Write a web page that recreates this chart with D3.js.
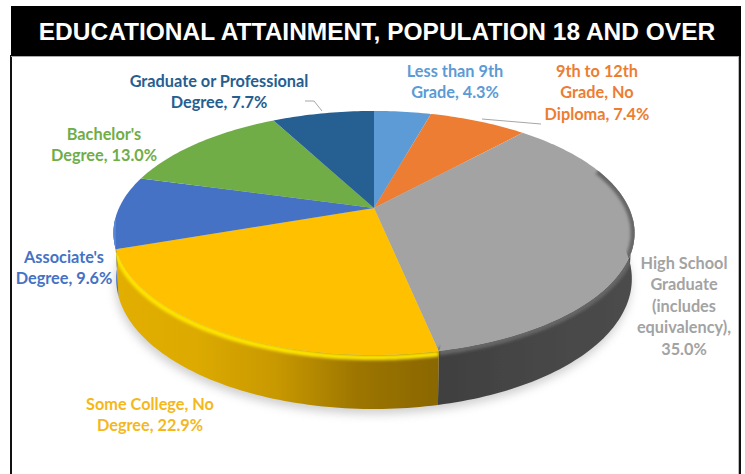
<!DOCTYPE html>
<html>
<head>
<meta charset="utf-8">
<script src="https://cdnjs.cloudflare.com/ajax/libs/d3/7.8.5/d3.min.js"></script>
<style>
html,body{margin:0;padding:0;background:#fff;}
svg{display:block;}
.lbl{font-family:Lato,"Open Sans",sans-serif;font-weight:700;font-size:16.3px;text-anchor:middle;}
</style>
</head>
<body>
<div id="chart"></div>
<script>
var chartTitle = "EDUCATIONAL ATTAINMENT, POPULATION 18 AND OVER";
var values = [4.3, 7.4, 35.0, 22.9, 9.6, 13.0, 7.7];
var labelLines = [
    ["Less than 9th", "Grade,"],
    ["9th to 12th", "Grade, No", "Diploma,"],
    ["High School", "Graduate", "(includes", "equivalency),", ""],
    ["Some College, No", "Degree,"],
    ["Associate's", "Degree,"],
    ["Bachelor's", "Degree,"],
    ["Graduate or Professional", "Degree,"]
];
var topColors = ["#5b9bd5", "#ed7d31", "#a3a3a3", "#ffc000", "#4472c4", "#70ad47", "#255e91"];
var rimColors = [null, null, "#666666", "#ffe600", "#5b8ad8", null, null];
var rimWidths = [0, 0, 8, 5, 5, 0, 0];
var rimShift = [0, 0, 0, 2.5, 0, 0, 0];
var wallStops = [
    null, null,
    ["#4c4c4c", "#404040"],
    ["#8a6700", "#9c7500", "#c89800", "#dcaa00", "#e2ae00"],
    ["#4472c4", "#4472c4"],
    null, null
];
var labelAnchor = [[455, 77], [597, 77], [684, 269], [150, 410], [64, 263], [104, 140], [219, 87]];
var lineGap = 21.4;

var width = 745, height = 474;
var svg = d3.select("#chart").append("svg").attr("width", width).attr("height", height);
var defs = svg.append("defs");

// tilted disc: apex at (cx,cy), front edge nearer the viewer
var cx = 374, cy = 208, A = 255, B = 116.9, k = 0.205;
var baseDrop = 44.9, baseScale = 1.01;

function project(a, onBase) {
    var u = Math.sin(a), v = -Math.cos(a);
    var w = (1 - k * v) * 1 + (onBase ? baseScale - 1 : 0);
    return [cx + A * u / w, cy + (B * v + (onBase ? baseDrop : 0)) / w];
}
function arcPts(a0, a1, onBase) {
    var n = Math.max(2, Math.ceil((a1 - a0) / 0.02));
    return d3.range(n + 1).map(function(i) { return project(a0 + (a1 - a0) * i / n, onBase); });
}

var pie = d3.pie().sort(null)(values);
var line = d3.line();
var deg = Math.PI / 180;
var wallFrom = 95 * deg, wallTo = 265 * deg;

defs.append("filter").attr("id", "shadowBlur").attr("x", "-10%").attr("y", "-10%").attr("width", "120%").attr("height", "120%")
    .append("feGaussianBlur").attr("stdDeviation", 5);
defs.append("filter").attr("id", "rimBlur").attr("x", "-10%").attr("y", "-10%").attr("width", "120%").attr("height", "120%")
    .append("feGaussianBlur").attr("stdDeviation", 1.4);
defs.append("filter").attr("id", "softBlur")
    .append("feGaussianBlur").attr("stdDeviation", 0.35);

// soft shadow under the disc
svg.append("path")
    .attr("d", line(arcPts(0, 2 * Math.PI, true)) + "Z")
    .attr("transform", "translate(-1,5)")
    .attr("fill", "#a8a8a8")
    .attr("opacity", 0.55)
    .attr("filter", "url(#shadowBlur)");

var discLayer = svg.append("g").attr("filter", "url(#softBlur)");

// outer wall, only the part facing the viewer
pie.forEach(function(d, i) {
    if (!wallStops[i]) return;
    var a0 = Math.max(d.startAngle, wallFrom), a1 = Math.min(d.endAngle, wallTo);
    if (a1 <= a0) return;
    var top = arcPts(a0, a1, false), bot = arcPts(a0, a1, true).reverse();
    var xr = d3.extent(top.concat(bot), function(p) { return p[0]; });
    var grad = defs.append("linearGradient").attr("id", "wall" + i)
        .attr("gradientUnits", "userSpaceOnUse")
        .attr("x1", xr[1]).attr("x2", xr[0]).attr("y1", 0).attr("y2", 0);
    wallStops[i].forEach(function(c, j) {
        grad.append("stop").attr("offset", j / (wallStops[i].length - 1)).attr("stop-color", c);
    });
    discLayer.append("path")
        .attr("d", line(top.concat(bot)) + "Z")
        .attr("fill", "url(#wall" + i + ")");
});

// top face
pie.forEach(function(d, i) {
    var pts = [[cx, cy]].concat(arcPts(d.startAngle, d.endAngle, false));
    discLayer.append("path")
        .attr("d", line(pts) + "Z")
        .attr("fill", topColors[i]);
});

// bevel along the rim of the front slices
pie.forEach(function(d, i) {
    if (!rimColors[i]) return;
    var a0 = Math.max(d.startAngle, 70 * deg), a1 = Math.min(d.endAngle, wallTo);
    if (a1 <= a0) return;
    var clipId = "rimClip" + i;
    var top = arcPts(d.startAngle, d.endAngle, false);
    var bot = arcPts(d.startAngle, d.endAngle, true).reverse();
    defs.append("clipPath").attr("id", clipId).append("path")
        .attr("d", line(top.concat(bot)) + "Z M" + [cx, cy] + "L" + top[0] + "L" + top[top.length - 1] + "Z");
    discLayer.append("g").attr("clip-path", "url(#" + clipId + ")")
        .append("path")
        .attr("d", line(arcPts(a0, a1, false)))
        .attr("transform", "translate(0," + rimShift[i] + ")")
        .attr("fill", "none")
        .attr("stroke", rimColors[i])
        .attr("stroke-width", rimWidths[i])
        .attr("filter", "url(#rimBlur)");
});

// leader lines
var leaderColor = "#a6a6a6";
svg.append("path").attr("d", line([[305, 101], [314, 101], [322, 111]]))
    .attr("fill", "none").attr("stroke", leaderColor).attr("stroke-width", 1);
svg.append("path").attr("d", line([[482, 119], [541, 124]]))
    .attr("fill", "none").attr("stroke", leaderColor).attr("stroke-width", 1);

// data labels
pie.forEach(function(d, i) {
    var pct = d.value.toFixed(1) + "%";
    var lines = labelLines[i].slice();
    if (lines[lines.length - 1] === "") lines[lines.length - 1] = pct;
    else lines[lines.length - 1] += " " + pct;
    lines.forEach(function(t, j) {
        svg.append("text").attr("class", "lbl")
            .attr("x", labelAnchor[i][0])
            .attr("y", labelAnchor[i][1] + j * lineGap)
            .attr("fill", topColors[i] === "#ffc000" ? "#f4b81c" : topColors[i])
            .text(t);
    });
});

// frame and title bar
svg.append("rect").attr("x", 10).attr("y", 55).attr("width", 2).attr("height", height - 55).attr("fill", "#111");
svg.append("rect").attr("x", 738).attr("y", 55).attr("width", 1).attr("height", height - 55).attr("fill", "#bbb");
svg.append("rect").attr("x", 739).attr("y", 55).attr("width", 2).attr("height", height - 55).attr("fill", "#111");
svg.append("rect").attr("x", 11).attr("y", 56).attr("width", 728).attr("height", 1).attr("fill", "#aaa");
svg.append("rect").attr("x", 11).attr("y", 6).attr("width", 730).attr("height", 50).attr("fill", "#000");
svg.append("text")
    .attr("x", 377).attr("y", 40)
    .attr("text-anchor", "middle")
    .attr("font-family", "'Liberation Sans',Arial,sans-serif")
    .attr("font-weight", 700)
    .attr("font-size", 24.5)
    .attr("fill", "#fff")
    .text(chartTitle);
</script>
</body>
</html>
